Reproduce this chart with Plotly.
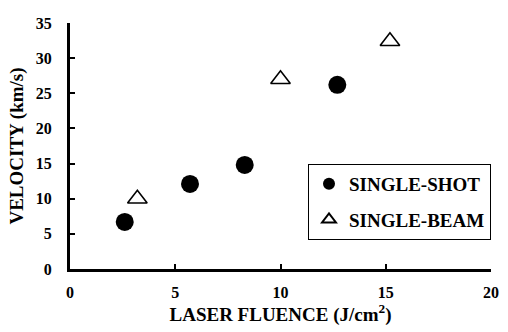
import plotly.graph_objects as go

# Measured ion velocity versus laser fluence
shot_fluence = [2.6, 5.7, 8.3, 12.7]
shot_velocity = [6.7, 12.1, 14.8, 26.2]

beam_fluence = [3.2, 10.0, 15.2]
beam_velocity = [10.0, 27.0, 32.4]

x_ticks = [0, 5, 10, 15, 20]
y_ticks = [0, 5, 10, 15, 20, 25, 30, 35]

FONT = "Liberation Serif"

fig = go.Figure()
fig.add_trace(go.Scatter(
    x=shot_fluence, y=shot_velocity, mode="markers", name="SINGLE-SHOT",
    legendgroup="shot",
    marker=dict(symbol="circle", size=18, color="black"),
))
fig.add_trace(go.Scatter(
    x=beam_fluence, y=beam_velocity, mode="markers", name="SINGLE-BEAM",
    legendgroup="beam",
    marker=dict(symbol="triangle-up-open", size=17, color="black",
                line=dict(width=1.6, color="black")),
))

axis_common = dict(
    showgrid=False, zeroline=False, showline=True, linecolor="black",
    linewidth=3, ticks="inside", ticklen=5, tickwidth=2, tickcolor="black",
    tickfont=dict(family=FONT, size=16, color="black", weight="bold"),
)

fig.update_layout(
    width=508, height=332,
    margin=dict(l=70, r=9, t=23, b=63),
    paper_bgcolor="white", plot_bgcolor="white",
    font=dict(family=FONT, color="black"),
    showlegend=True,
    legend=dict(
        x=1.0, xanchor="right", y=0.427, yanchor="top",
        bordercolor="black", borderwidth=1, bgcolor="white",
        font=dict(family=FONT, size=19, color="black", weight="bold"),
        itemsizing="constant", traceorder="grouped", tracegroupgap=8,
    ),
    xaxis=dict(
        range=[0, 20], tickvals=x_ticks,
        title=dict(text="LASER FLUENCE (J/cm<sup>2</sup>)",
                   font=dict(family=FONT, size=19, color="black", weight="bold"),
                   standoff=6),
        ticklabelstandoff=7,
        **axis_common,
    ),
    yaxis=dict(
        range=[0, 35], tickvals=y_ticks,
        title=dict(text="VELOCITY (km/s)",
                   font=dict(family=FONT, size=19, color="black", weight="bold"),
                   standoff=8),
        ticklabelstandoff=12,
        **axis_common,
    ),
)

fig.write_html("out.html")
